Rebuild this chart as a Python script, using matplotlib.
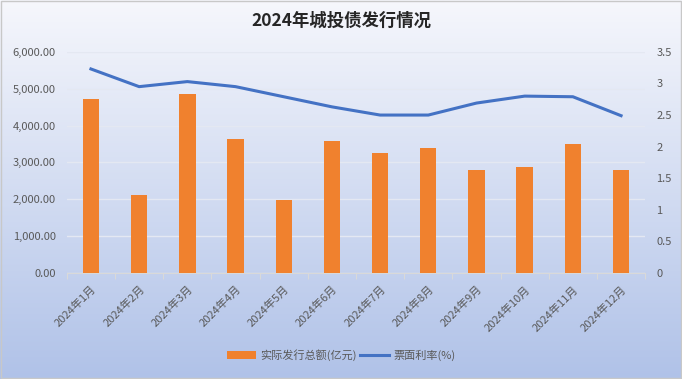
import numpy as np
import matplotlib.pyplot as plt
from matplotlib.ticker import FuncFormatter

plt.rcParams['font.family'] = ['Noto Sans CJK SC', 'DejaVu Sans']

months = ['2024年%d月' % i for i in range(1, 13)]
amount = [4730, 2120, 4860, 3640, 1990, 3590, 3260, 3400, 2800, 2880, 3510, 2800]
rate = [3.23, 2.95, 3.03, 2.95, 2.79, 2.63, 2.50, 2.50, 2.69, 2.80, 2.79, 2.49]

fig = plt.figure(figsize=(6.82, 3.79), dpi=100)

# fondo degradado
bg = fig.add_axes([0, 0, 1, 1], zorder=-10)
grad = np.linspace(0, 1, 256).reshape(-1, 1)
top = np.array([246, 247, 252]) / 255.
bot = np.array([176, 194, 232]) / 255.
img = top + (bot - top) * grad[:, :, None]
bg.imshow(img, aspect='auto', extent=[0, 1, 0, 1])
bg.set_xlim(0, 1)
bg.set_ylim(0, 1)
bg.axis('off')
bg.add_patch(plt.Rectangle((0.001, 0.002), 0.998, 0.996, fill=False, ec='#c8c8c8', lw=1))

ax = fig.add_axes([0.098, 0.280, 0.848, 0.583])
ax.patch.set_alpha(0)
x = np.arange(len(months))
ax.bar(x, amount, width=0.34, color='#f0812e', label='实际发行总额(亿元)', zorder=3)
ax.set_ylim(0, 6000)
ax.set_xlim(-0.5, 11.5)
ax.set_yticks(np.arange(0, 6001, 1000))
ax.yaxis.set_major_formatter(FuncFormatter(lambda v, p: '{:,.2f}'.format(v)))
ax.grid(axis='y', color='#e4e8f2', lw=1)
ax.set_axisbelow(True)
for s in ['top', 'right', 'left']:
    ax.spines[s].set_visible(False)
ax.spines['bottom'].set_color('#d9d9d9')
ax.set_xticks(np.arange(-0.5, 12, 1), minor=False)
ax.set_xticklabels([])
ax.tick_params(axis='x', which='major', length=4, color='#d9d9d9', direction='out')
ax.set_xticks(x, minor=True)
ax.set_xticklabels(months, minor=True, rotation=45, ha='right', va='top',
                   rotation_mode='anchor', fontsize=8, color='#595959')
ax.tick_params(axis='x', which='minor', length=0, pad=8)
ax.tick_params(axis='y', length=0, labelsize=8, labelcolor='#595959', pad=8)

ax2 = ax.twinx()
ax2.plot(x, rate, color='#4472c4', lw=2.2, label='票面利率(%)', zorder=4)
ax2.set_ylim(0, 3.5)
ax2.set_yticks(np.arange(0, 3.51, 0.5))
ax2.yaxis.set_major_formatter(FuncFormatter(lambda v, p: ('%g' % v)))
for s in ['top', 'right', 'left', 'bottom']:
    ax2.spines[s].set_visible(False)
ax2.tick_params(axis='y', length=0, labelsize=8, labelcolor='#595959', pad=8)

fig.text(0.5, 0.945, '2024年城投债发行情况', ha='center', va='center',
         fontsize=12.5, fontweight='bold', color='#262626')

h1, l1 = ax.get_legend_handles_labels()
h2, l2 = ax2.get_legend_handles_labels()
fig.legend(h1 + h2, l1 + l2, loc='center', bbox_to_anchor=(0.5, 0.063), ncol=2,
           frameon=False, fontsize=8, labelcolor='#595959', handlelength=2.6,
           columnspacing=0.3, handletextpad=0.4)

fig.savefig('out.png', dpi=100)
